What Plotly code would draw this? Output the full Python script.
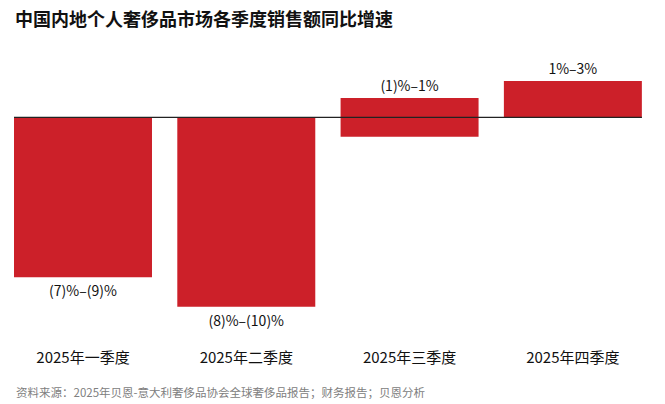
import plotly.graph_objects as go

categories = ["2025年一季度", "2025年二季度", "2025年三季度", "2025年四季度"]
range_labels = ["(7)%–(9)%", "(8)%–(10)%", "(1)%–1%", "1%–3%"]
bar_low = [-8.27, -9.79, -1.0, 0.0]
bar_high = [0.0, 0.0, 1.0, 1.88]

FONT = "Noto Sans CJK SC"
RED = "#CC2029"

bases, lengths = [], []
for lo, hi in zip(bar_low, bar_high):
    if hi <= 0:
        bases.append(hi)
        lengths.append(lo - hi)
    else:
        bases.append(lo)
        lengths.append(hi - lo)

fig = go.Figure()
fig.add_trace(go.Bar(
    x=categories, y=lengths, base=bases,
    marker=dict(color=RED, line=dict(width=0)),
    width=0.845,
    text=range_labels, textposition="outside",
    textfont=dict(family=FONT, size=14, color="#111"),
    cliponaxis=False,
    hoverinfo="skip",
))

fig.add_shape(type="line", xref="x", yref="y", x0=-0.4225, x1=3.423, y0=0, y1=0,
              line=dict(color="#222", width=1.2), layer="above")

fig.update_layout(
    width=665, height=404,
    margin=dict(l=8, r=10, t=50, b=57),
    paper_bgcolor="white", plot_bgcolor="white",
    showlegend=False,
    font=dict(family=FONT, color="#111"),
    xaxis=dict(range=[-0.4593, 3.503], showgrid=False, zeroline=False, showline=False,
               ticks="", tickfont=dict(family=FONT, size=15, color="#111")),
    yaxis=dict(range=[-11.87, 3.48], visible=False),
    title=dict(text="<b>中国内地个人奢侈品市场各季度销售额同比增速</b>",
               x=0, xref="container", xanchor="left", y=0.9517, yanchor="middle",
               pad=dict(l=15),
               font=dict(family=FONT, size=18, color="#111")),
)

fig.add_annotation(text="资料来源：2025年贝恩-意大利奢侈品协会全球奢侈品报告；财务报告；贝恩分析",
                   xref="paper", yref="paper", x=0, y=0, xshift=6, yshift=-45,
                   xanchor="left", yanchor="middle", showarrow=False,
                   font=dict(family=FONT, size=11.5, color="#808080"))

fig.write_html("out.html", config={"displayModeBar": False},
               post_script="document.body.style.margin='0';")
